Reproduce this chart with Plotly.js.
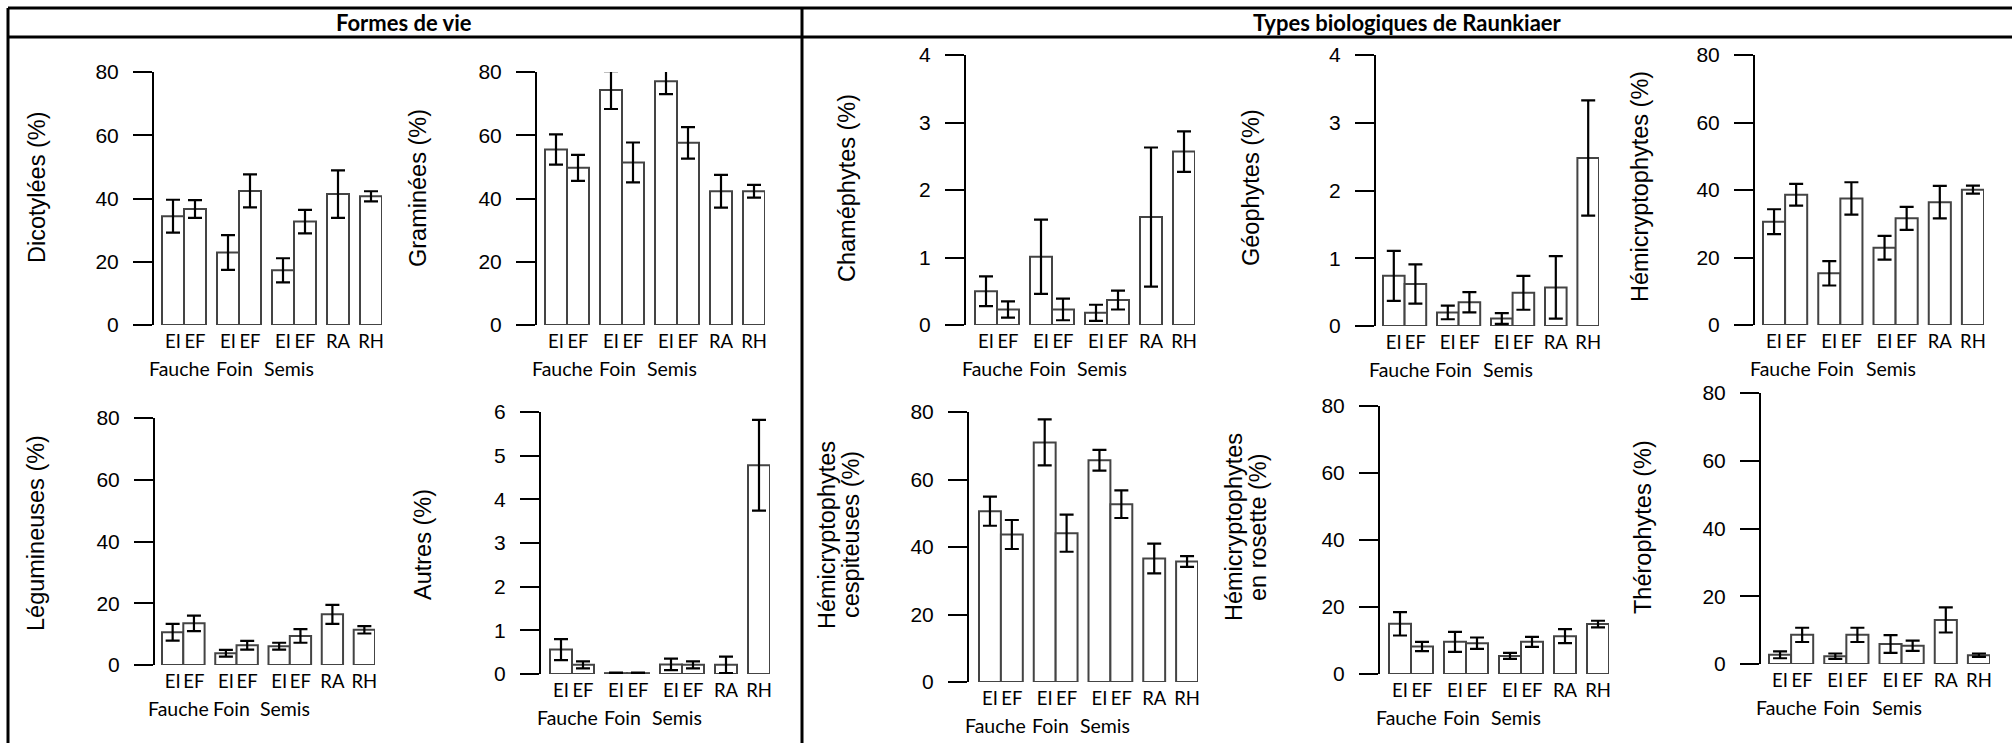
<!DOCTYPE html>
<html><head><meta charset="utf-8">
<script src="https://cdn.plot.ly/plotly-3.0.1.min.js"></script>
<style>html,body{margin:0;padding:0;background:#fff}#chart{width:2012px;height:743px}</style>
</head><body><div id="chart"></div>
<script>
// ---- data ----
const categories = ["EI","EF","EI","EF","EI","EF","RA","RH"];
const groups = ["Fauche","Foin","Semis"];

const dicotyledees    = [34.4, 36.7, 22.9, 42.4, 17.3, 32.7, 41.4, 40.7];
const dicotyledeesErr = [5.2, 2.8, 5.5, 5.2, 3.8, 3.7, 7.5, 1.6];
const graminees       = [55.5, 49.7, 74.3, 51.4, 77.1, 57.6, 42.3, 42.3];
const gramineesErr    = [4.8, 4.1, 6.0, 6.3, 4.1, 5.0, 5.2, 2.0];
const legumineuses    = [10.6, 13.5, 3.8, 6.4, 6.1, 9.4, 16.4, 11.4];
const legumineusesErr = [2.7, 2.5, 1.1, 1.4, 1.1, 2.2, 3.1, 1.2];
const autres          = [0.56, 0.21, 0.02, 0.02, 0.22, 0.21, 0.21, 4.78];
const autresErr       = [0.24, 0.08, 0.01, 0.01, 0.13, 0.08, 0.19, 1.04];
const chamephytes     = [0.50, 0.23, 1.01, 0.23, 0.18, 0.37, 1.60, 2.57];
const chamephytesErr  = [0.22, 0.12, 0.55, 0.16, 0.12, 0.14, 1.03, 0.30];
const geophytes       = [0.74, 0.62, 0.20, 0.35, 0.11, 0.49, 0.57, 2.48];
const geophytesErr    = [0.37, 0.29, 0.10, 0.15, 0.08, 0.25, 0.46, 0.85];
const hemicrypto      = [30.6, 38.6, 15.3, 37.5, 22.9, 31.6, 36.4, 40.1];
const hemicryptoErr   = [3.7, 3.2, 3.6, 4.8, 3.5, 3.4, 4.8, 1.2];
const hemiCespit      = [50.6, 43.7, 71.0, 44.1, 65.7, 52.7, 36.6, 35.7];
const hemiCespitErr   = [4.3, 4.3, 6.8, 5.5, 3.1, 4.1, 4.4, 1.6];
const hemiRosette     = [15.0, 8.2, 9.6, 9.2, 5.4, 9.6, 11.3, 14.9];
const hemiRosetteErr  = [3.5, 1.4, 3.0, 1.7, 0.9, 1.5, 2.1, 1.0];
const therophytes     = [2.7, 8.6, 2.3, 8.6, 5.9, 5.4, 13.0, 2.6];
const therophytesErr  = [1.0, 2.1, 0.8, 2.1, 2.6, 1.5, 3.7, 0.5];

const headers = ["Formes de vie", "Types biologiques de Raunkiaer"];

// ---- layout constants (pixels in the 2012x743 page) ----
const W = 2012, H = 743;
const barPos = [0.5, 1.5, 3, 4, 5.5, 6.5, 8, 9.5];   // bar centres in bar-width units
const groupPos = [1, 3.5, 6];
const t80 = [0, 20, 40, 60, 80], t4 = [0, 1, 2, 3, 4], t6 = [0, 1, 2, 3, 4, 5, 6];

const panels = [
  {y: dicotyledees, e: dicotyledeesErr, top: 80, tv: t80, ax: 154, b0: 162, b1: 382, yT: 72,  y0: 325, ty: 188, lines: [["Dicotylées (%)", 37]]},
  {y: graminees,    e: gramineesErr,    top: 80, tv: t80, ax: 537, b0: 545, b1: 765, yT: 72,  y0: 325, ty: 188, lines: [["Graminées (%)", 418]]},
  {y: chamephytes,  e: chamephytesErr,  top: 4,  tv: t4,  ax: 966, b0: 975, b1: 1195, yT: 55, y0: 325, ty: 188, lines: [["Chaméphytes (%)", 847]]},
  {y: geophytes,    e: geophytesErr,    top: 4,  tv: t4,  ax: 1376, b0: 1383, b1: 1599, yT: 55, y0: 326, ty: 188, lines: [["Géophytes (%)", 1251]]},
  {y: hemicrypto,   e: hemicryptoErr,   top: 80, tv: t80, ax: 1755, b0: 1763, b1: 1984, yT: 55, y0: 325, ty: 187, lines: [["Hémicryptophytes (%)", 1640]]},
  {y: legumineuses, e: legumineusesErr, top: 80, tv: t80, ax: 155, b0: 162, b1: 375, yT: 418, y0: 665, ty: 533, lines: [["Légumineuses (%)", 36]]},
  {y: autres,       e: autresErr,       top: 6,  tv: t6,  ax: 541, b0: 550, b1: 770, yT: 412, y0: 674, ty: 545, lines: [["Autres (%)", 423]]},
  {y: hemiCespit,   e: hemiCespitErr,   top: 80, tv: t80, ax: 969, b0: 979, b1: 1198, yT: 412, y0: 682, ty: 535, lines: [["Hémicryptophytes", 827], ["cespiteuses (%)", 851]]},
  {y: hemiRosette,  e: hemiRosetteErr,  top: 80, tv: t80, ax: 1380, b0: 1389, b1: 1609, yT: 406, y0: 674, ty: 527, lines: [["Hémicryptophytes", 1234], ["en rosette (%)", 1258]]},
  {y: therophytes,  e: therophytesErr,  top: 80, tv: t80, ax: 1761, b0: 1769, b1: 1990, yT: 393, y0: 664, ty: 527, lines: [["Thérophytes (%)", 1643]]}
];

const ARIAL = "Liberation Sans, Arial, sans-serif";
const CALIB = "Lato, Open Sans, sans-serif";

const data = [];
const layout = {
  width: W, height: H, margin: {l: 0, r: 0, t: 0, b: 0},
  paper_bgcolor: "#fff", plot_bgcolor: "rgba(0,0,0,0)",
  showlegend: false, bargap: 0, annotations: [], shapes: []
};
const px = v => v / W, py = v => 1 - v / H;

panels.forEach((p, i) => {
  const n = i + 1, xs = "x" + n, ys = "y" + n;
  const unit = (p.b1 - p.b0) / 10;
  data.push({
    type: "bar", x: barPos, y: p.y, width: 1, xaxis: xs, yaxis: ys,
    marker: {color: "#fff", line: {color: "#444", width: 2}},
    error_y: {type: "data", array: p.e, visible: true, color: "#000", thickness: 2.2, width: 7},
    cliponaxis: false, hoverinfo: "skip"
  });
  layout["xaxis" + n] = {
    domain: [px(p.ax), px(p.b1)], range: [-(p.b0 - p.ax) / unit, 10], anchor: ys,
    showline: false, showgrid: false, zeroline: false, ticks: "", tickangle: 0,
    tickmode: "array", tickvals: barPos, ticktext: categories,
    tickfont: {family: CALIB, size: 18.5, color: "#000"}, ticklabelstandoff: 3, fixedrange: true
  };
  layout["yaxis" + n] = {
    domain: [py(p.y0), py(p.yT)], range: [0, p.top], anchor: xs,
    showline: true, linewidth: 2, linecolor: "#000", showgrid: false, zeroline: false,
    ticks: "outside", ticklen: 19, tickwidth: 2, tickcolor: "#000",
    tickmode: "array", tickvals: p.tv, ticktext: p.tv.map(String),
    tickfont: {family: ARIAL, size: 21, color: "#000"}, ticklabelstandoff: 10, fixedrange: true
  };
  groups.forEach((g, j) => {
    layout.annotations.push({
      text: g, x: groupPos[j], xref: xs, y: py(p.y0 + 43), yref: "paper",
      xanchor: "center", yanchor: "middle", showarrow: false, xshift: -5,
      font: {family: CALIB, size: 19.5, color: "#000"}
    });
  });
  p.lines.forEach(([t, x]) => {
    layout.annotations.push({
      text: t, x: px(x), y: py(p.ty), xref: "paper", yref: "paper",
      xanchor: "center", yanchor: "middle", textangle: -90, showarrow: false,
      font: {family: ARIAL, size: 23.5, color: "#000"}
    });
  });
});

// headers
[[headers[0], 404], [headers[1], 1407]].forEach(([t, x]) => {
  layout.annotations.push({
    text: "<b>" + t + "</b>", x: px(x), y: py(23), xref: "paper", yref: "paper",
    xanchor: "center", yanchor: "middle", showarrow: false,
    font: {family: CALIB, size: 22, color: "#000"}
  });
});

// table frame
const L = {color: "#000", width: 3};
layout.shapes.push(
  {type: "line", xref: "paper", yref: "paper", x0: px(8), x1: 1, y0: py(8), y1: py(8), line: L},
  {type: "line", xref: "paper", yref: "paper", x0: px(8), x1: 1, y0: py(37), y1: py(37), line: L},
  {type: "line", xref: "paper", yref: "paper", x0: px(8), x1: px(8), y0: py(8), y1: 0, line: L},
  {type: "line", xref: "paper", yref: "paper", x0: px(802), x1: px(802), y0: py(8), y1: 0, line: L}
);

Plotly.newPlot("chart", data, layout, {staticPlot: true, displayModeBar: false});
</script></body></html>
